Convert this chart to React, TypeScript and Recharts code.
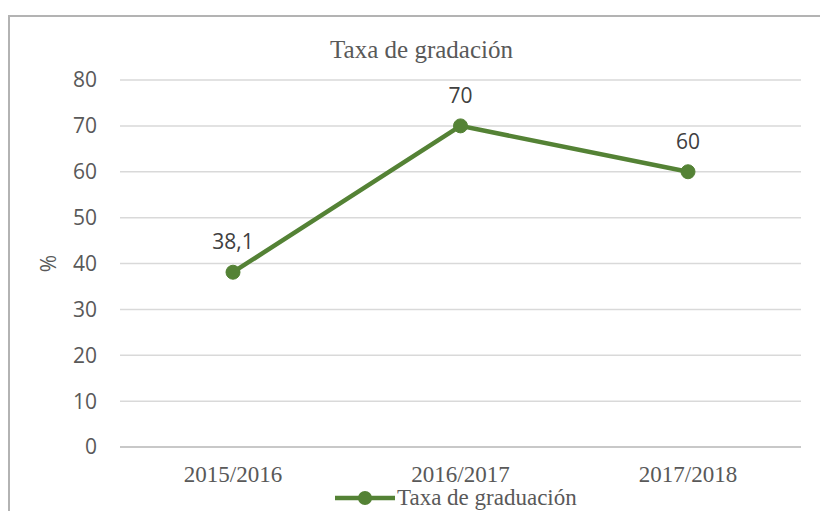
import React from 'react';
import {
  LineChart, Line, XAxis, YAxis, CartesianGrid, Legend, LabelList,
} from 'recharts';

const years = ['2015/2016', '2016/2017', '2017/2018'];
const rates = [38.1, 70, 60];
const yTicks = [0, 10, 20, 30, 40, 50, 60, 70, 80];

const data = years.map((year, i) => ({ year, rate: rates[i] }));

const GREEN = '#548235';
const TEXT = '#595959';
const SERIF = '"Liberation Serif", "Times New Roman", serif';
const SANS = '"Open Sans", "Noto Sans", sans-serif';

const LegendContent = () => (
  <div style={{ display: 'flex', alignItems: 'center', whiteSpace: 'nowrap' }}>
    <svg width={62} height={16}>
      <line x1={0} y1={8} x2={60} y2={8} stroke={GREEN} strokeWidth={4.5} />
      <circle cx={30} cy={8} r={7} fill={GREEN} />
    </svg>
    <span style={{ fontFamily: SERIF, fontSize: 23, color: TEXT, lineHeight: '24px' }}>
      Taxa de graduación
    </span>
  </div>
);

export default function App() {
  return (
    <div style={{ position: 'fixed', left: 0, top: 0, width: 820, height: 511, overflow: 'hidden', background: '#fff' }}>
      <div style={{ position: 'absolute', left: 8, top: 15, width: 900, height: 600, border: '2px solid #b3b3b3' }} />
      <div style={{
        position: 'absolute', left: 0, top: 36, width: 843, textAlign: 'center',
        fontFamily: SERIF, fontSize: 25, color: TEXT,
      }}>
        Taxa de gradación
      </div>
      <div style={{ position: 'absolute', left: 0, top: 0 }}>
        <LineChart width={820} height={511} data={data} margin={{ top: 80, right: 19, left: 60, bottom: 20 }}>
          <CartesianGrid vertical={false} stroke="#d9d9d9" strokeWidth={1.5} />
          <XAxis
            dataKey="year"
            height={44}
            axisLine={{ stroke: '#bfbfbf', strokeWidth: 1.5 }}
            tickLine={false}
            tickMargin={13}
            padding={{ left: 113, right: 113 }}
            tick={{ fill: TEXT, fontFamily: SERIF, fontSize: 23 }}
          />
          <YAxis
            width={60}
            domain={[0, 80]}
            ticks={yTicks}
            axisLine={false}
            tickLine={false}
            tickSize={8}
            tickMargin={15}
            tick={{ fill: TEXT, fontFamily: SANS, fontSize: 21 }}
            label={{ value: '%', angle: -90, position: 'center', dx: -41, fill: TEXT, fontFamily: SANS, fontSize: 21 }}
          />
          <Legend
            layout="horizontal"
            verticalAlign="middle"
            align="center"
            content={<LegendContent />}
            wrapperStyle={{ top: 486, left: 335, width: 'auto' }}
          />
          <Line
            dataKey="rate"
            stroke={GREEN}
            strokeWidth={4.5}
            dot={{ r: 7, fill: GREEN, stroke: GREEN, strokeWidth: 1 }}
            isAnimationActive={false}
          >
            <LabelList
              dataKey="rate"
              position="top"
              offset={23}
              fill="#404040"
              fontFamily={SANS}
              fontSize={21}
              formatter={(v: any) => String(v).replace('.', ',')}
            />
          </Line>
        </LineChart>
      </div>
    </div>
  );
}
